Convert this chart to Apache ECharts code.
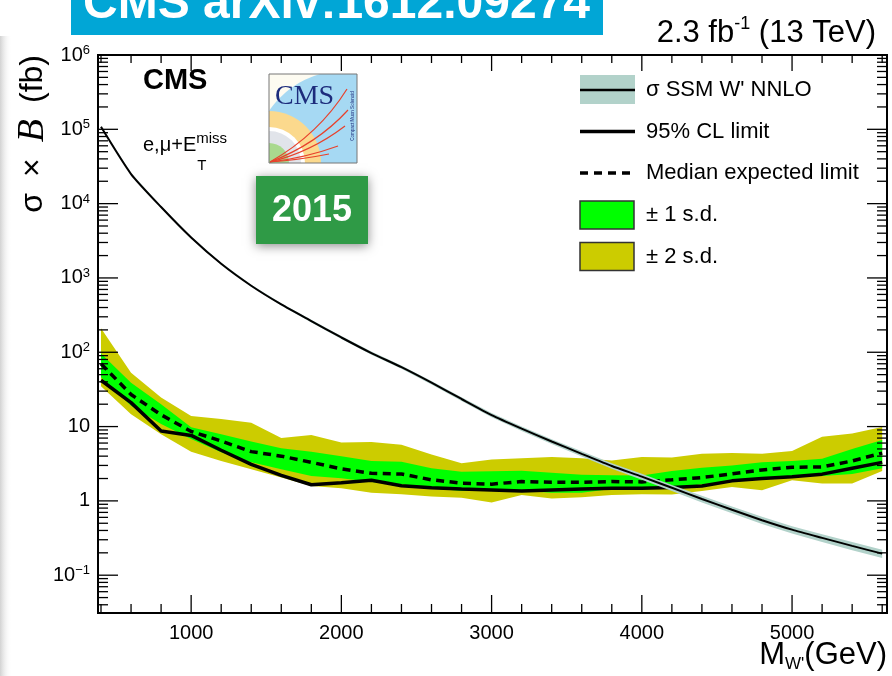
<!DOCTYPE html>
<html>
<head>
<meta charset="utf-8">
<script src="https://cdn.jsdelivr.net/npm/echarts/dist/echarts.min.js"></script>
<style>
  html, body { margin: 0; padding: 0; background: #ffffff; }
  #main { width: 892px; height: 676px; }
</style>
</head>
<body>
<div id="main"></div>
<script>
// W' -> e/mu + MET search, 2.3 fb^-1 at 13 TeV: cross section limits vs W' mass
const massGeV = [400, 600, 800, 1000, 1200, 1400, 1600, 1800, 2000, 2200, 2400, 2600, 2800, 3000,
                 3200, 3400, 3600, 3800, 4000, 4200, 4400, 4600, 4800, 5000, 5200, 5400, 5600];

// SSM W' NNLO cross section (fb) and its uncertainty band
const theoryXsec = [108000, 25000, 9000, 3500, 1550, 785, 440, 263, 158, 97.5, 63, 39, 23.5, 14.3,
                    9.4, 6.3, 4.3, 2.95, 2.12, 1.5, 1.06, 0.76, 0.55, 0.41, 0.318, 0.248, 0.195];
const theoryHigh = [111000, 25800, 9300, 3600, 1600, 810, 455, 273, 165, 102, 66.2, 41.1, 24.9, 15.2,
                    10.05, 6.77, 4.64, 3.2, 2.31, 1.64, 1.17, 0.84, 0.61, 0.457, 0.356, 0.279, 0.22];
const theoryLow  = [105000, 24250, 8730, 3400, 1505, 762, 425, 252, 151, 92.6, 59.8, 36.9, 22.1, 13.4,
                    8.74, 5.83, 3.96, 2.7, 1.93, 1.36, 0.954, 0.68, 0.49, 0.363, 0.28, 0.217, 0.17];

// 95% CL limits (fb)
const observedLimit = [42, 21, 8.7, 7.6, 4.8, 3.1, 2.2, 1.65, 1.75, 1.9, 1.6, 1.5, 1.44, 1.4,
                       1.36, 1.4, 1.44, 1.48, 1.48, 1.51, 1.59, 1.86, 2.0, 2.12, 2.29, 2.75, 3.3];
const expectedLimit = [70, 27, 14.4, 8.6, 6.4, 4.6, 4.0, 3.3, 2.7, 2.35, 2.3, 1.92, 1.73, 1.68,
                       1.82, 1.78, 1.78, 1.82, 1.8, 1.92, 2.06, 2.31, 2.61, 2.84, 2.86, 3.45, 4.4];
const oneSigmaHigh = [96, 39, 20, 9.8, 7.9, 6.3, 5.1, 4.6, 4.0, 3.45, 3.35, 2.75, 2.46, 2.5,
                      2.55, 2.4, 2.24, 2.22, 2.2, 2.53, 2.8, 3.0, 3.3, 3.45, 3.7, 5.0, 6.6];
const oneSigmaLow  = [46, 19, 10.8, 6.8, 4.5, 3.3, 2.67, 2.17, 2.02, 1.8, 1.68, 1.48, 1.36, 1.36,
                      1.37, 1.29, 1.29, 1.44, 1.44, 1.48, 1.68, 1.86, 2.0, 2.17, 2.17, 2.3, 2.75];
const twoSigmaHigh = [210, 53, 24.6, 13.9, 12.6, 11.3, 7.0, 7.7, 6.1, 6.2, 5.7, 4.2, 3.2, 3.6,
                      3.75, 3.9, 3.75, 3.5, 3.9, 3.85, 4.3, 4.4, 4.3, 4.7, 7.3, 8.05, 9.9];
const twoSigmaLow  = [35, 14.7, 7.9, 4.6, 3.45, 2.67, 2.06, 1.59, 1.48, 1.29, 1.23, 1.15, 1.1, 0.95,
                      1.2, 1.08, 1.12, 1.2, 1.23, 1.22, 1.36, 1.54, 1.39, 1.9, 1.71, 1.71, 2.53];

// axis ranges and tick positions
const xRange = [380, 5632];
const yRange = [0.031, 1e6];
const xMajorTicks = [1000, 2000, 3000, 4000, 5000];
const xMinorStep = 200;
const yMajorExponents = [-1, 0, 1, 2, 3, 4, 5, 6];

const FONT = '"Liberation Sans", Arial, Helvetica, sans-serif';
const SERIF = '"Liberation Serif", "DejaVu Serif", serif';

const chart = echarts.init(document.getElementById('main'), null, { renderer: 'canvas' });

function pairs(ys) { return massGeV.map((m, i) => [m, ys[i]]); }

function bandSeries(name, lo, hi, color, z) {
  return {
    name: name, type: 'custom', z: z, silent: true, clip: true,
    data: massGeV.map((m, i) => [m, lo[i], hi[i]]),
    encode: { x: 0, y: [1, 2] },
    renderItem: function (params, api) {
      if (params.dataIndex !== 0) return null;
      const pts = [];
      for (let i = 0; i < massGeV.length; i++) pts.push(api.coord([massGeV[i], hi[i]]));
      for (let i = massGeV.length - 1; i >= 0; i--) pts.push(api.coord([massGeV[i], lo[i]]));
      return { type: 'polygon', shape: { points: pts }, style: { fill: color, stroke: null } };
    }
  };
}

// ROOT-style ticks on all four sides of the frame
function tickRender(params, api) {
  if (params.dataIndex !== 0) return null;
  const bl = api.coord([xRange[0], yRange[0]]);
  const tr = api.coord([xRange[1], yRange[1]]);
  const kids = [];
  const seg = (a, b, c, d) => kids.push({
    type: 'line', shape: { x1: a, y1: b, x2: c, y2: d },
    style: { stroke: '#000', lineWidth: 1.3 }
  });
  // y: decades and 2..9 subdivisions
  for (let e = -2; e <= 6; e++) {
    for (let k = 1; k <= 9; k++) {
      const v = k * Math.pow(10, e);
      if (v < yRange[0] || v > yRange[1]) continue;
      const y = api.coord([xRange[0], v])[1];
      const len = k === 1 ? 20 : 10;
      seg(bl[0], y, bl[0] + len, y);
      seg(tr[0], y, tr[0] - len, y);
    }
  }
  // x: majors every 1000, minors every 200
  for (let m = 400; m <= xRange[1]; m += xMinorStep) {
    const x = api.coord([m, yRange[0]])[0];
    const major = xMajorTicks.indexOf(m) >= 0;
    seg(x, bl[1], x, bl[1] - (major ? 18 : 9));
    seg(x, tr[1], x, tr[1] + (major ? 16 : 8));
  }
  return { type: 'group', children: kids };
}

function yLabel(v) {
  const e = Math.log10(v);
  const r = Math.round(e);
  if (Math.abs(e - r) > 1e-6 || yMajorExponents.indexOf(r) < 0) return '';
  if (r === 0) return '{n|1}';
  if (r === 1) return '{n|10}';
  return '{n|10}{s|' + (r < 0 ? '\u2212' + (-r) : r) + '}';
}

// CMS logo drawn from simple shapes
function cmsLogo(x0, y0, W, H) {
  const kids = [];
  kids.push({ type: 'rect', shape: { x: 0, y: 0, width: W, height: H }, style: { fill: '#fdfbf1' } });
  const cx = 76.6, cy = H, R = 92.6;
  const blue = [];
  for (let i = 0; i <= 90; i++) {
    const t = Math.PI * i / 90;
    const px = Math.min(W, Math.max(0, cx + R * Math.cos(t)));
    const py = Math.min(H, Math.max(0, cy - R * Math.sin(t)));
    blue.push([px, py]);
  }
  kids.push({ type: 'polygon', shape: { points: blue }, style: { fill: '#a6d9f3' } });
  const ring = (r, fill) => kids.push({
    type: 'sector', shape: { cx: 0, cy: H, r0: 0, r: r, startAngle: -Math.PI / 2, endAngle: 0, clockwise: true },
    style: { fill: fill }
  });
  ring(52, '#fbd98d');
  ring(36, '#ffffff');
  ring(32, '#e1e4ea');
  ring(20, '#a9d98e');
  const tracks = [[78, 15, 50, 60], [79, 36, 48, 70], [76, 52, 42, 78], [69, 72, 36, 84], [60, 80, 30, 86]];
  tracks.forEach(t => kids.push({
    type: 'bezierCurve', shape: { x1: 1, y1: H - 1, cpx1: t[2], cpy1: t[3], x2: t[0], y2: t[1] },
    style: { stroke: '#e8412b', lineWidth: 1.2, fill: null }
  }));
  kids.push({ type: 'text', x: 6, y: 9, style: { text: 'CMS', font: '28px ' + SERIF, fill: '#1d2c7c' } });
  kids.push({ type: 'text', x: 84, y: 42, rotation: Math.PI / 2,
              style: { text: 'Compact Muon Solenoid', font: '4.5px ' + FONT, fill: '#1d2c7c', align: 'center', verticalAlign: 'middle' } });
  kids.push({ type: 'rect', shape: { x: 0, y: 0, width: W, height: H }, style: { fill: null, stroke: '#777', lineWidth: 1 } });
  return { type: 'group', x: x0, y: y0, children: kids };
}

// text measuring for stacked sub/superscripts
const measureCtx = document.createElement('canvas').getContext('2d');
function textWidth(str, font) { measureCtx.font = font; return measureCtx.measureText(str).width; }

const channelX = 143, channelBase = 155;
const channelMain = 'e,\u03bc+E';
const channelW = textWidth(channelMain, '20px ' + FONT);

const legendRows = [90, 131.5, 173, 215, 256.5];
const legX = 580, legTextX = 646;
const legFont = '22px ' + FONT;

const graphics = [
  // page edge shading on the left
  { type: 'rect', shape: { x: 0, y: 36, width: 12, height: 640 }, silent: true,
    style: { fill: new echarts.graphic.LinearGradient(0, 0, 1, 0, [
      { offset: 0, color: '#d2d2d2' }, { offset: 1, color: 'rgba(255,255,255,0)' }]) } },
  // arXiv banner
  { type: 'rect', shape: { x: 71, y: -5, width: 532, height: 40 }, style: { fill: '#01a6d6' } },
  { type: 'text', x: 83, y: 29, style: { text: 'CMS arXiv:1612.09274', font: 'bold 48px ' + FONT, fill: '#ffffff', verticalAlign: 'bottom' } },
  // luminosity label
  { type: 'text', x: 876, y: 33, style: {
      text: '{n|2.3 fb}{p|-1}{n| (13 TeV)}', align: 'right', verticalAlign: 'middle',
      rich: { n: { font: '31px ' + FONT, fill: '#000', lineHeight: 36 },
              p: { font: '18px ' + FONT, fill: '#000', lineHeight: 18, verticalAlign: 'top' } } } },
  // CMS label and channel
  { type: 'text', x: 143, y: 95, style: { text: 'CMS', font: 'bold 29px ' + FONT, fill: '#000', verticalAlign: 'bottom' } },
  { type: 'text', x: channelX, y: channelBase, style: { text: channelMain, font: '20px ' + FONT, fill: '#000', verticalAlign: 'bottom' } },
  { type: 'text', x: channelX + channelW, y: 146, style: { text: 'miss', font: '15px ' + FONT, fill: '#000', verticalAlign: 'bottom' } },
  { type: 'text', x: channelX + channelW + 1, y: 173, style: { text: 'T', font: '15px ' + FONT, fill: '#000', verticalAlign: 'bottom' } },
  cmsLogo(269, 74, 88, 89),
  // year badge
  { type: 'rect', shape: { x: 256, y: 176, width: 112, height: 68 },
    style: { fill: '#2f9a46', shadowBlur: 10, shadowColor: 'rgba(0,0,0,0.45)', shadowOffsetY: 2 } },
  { type: 'text', x: 312, y: 211, style: { text: '2015', font: 'bold 36px ' + FONT, fill: '#ffffff', align: 'center', verticalAlign: 'middle' } },
  // legend
  { type: 'rect', shape: { x: legX, y: legendRows[0] - 15, width: 55, height: 29 }, style: { fill: '#b2d2ca' } },
  { type: 'line', shape: { x1: legX, y1: legendRows[0], x2: legX + 55, y2: legendRows[0] }, style: { stroke: '#000', lineWidth: 2.5 } },
  { type: 'line', shape: { x1: legX, y1: legendRows[1], x2: legX + 55, y2: legendRows[1] }, style: { stroke: '#000', lineWidth: 3.5 } },
  { type: 'line', shape: { x1: legX, y1: legendRows[2], x2: legX + 53, y2: legendRows[2] }, style: { stroke: '#000', lineWidth: 3.5, lineDash: [8, 6] } },
  { type: 'rect', shape: { x: legX, y: legendRows[3] - 14, width: 54, height: 28 }, style: { fill: '#00ff00', stroke: '#333', lineWidth: 1.5 } },
  { type: 'rect', shape: { x: legX, y: legendRows[4] - 14, width: 54, height: 28 }, style: { fill: '#cccc00', stroke: '#333', lineWidth: 1.5 } },
  { type: 'text', x: legTextX, y: legendRows[0], style: { text: '\u03c3 SSM W\' NNLO', font: legFont, fill: '#000', verticalAlign: 'middle' } },
  { type: 'text', x: legTextX, y: legendRows[1], style: { text: '95% CL limit', font: legFont, fill: '#000', verticalAlign: 'middle' } },
  { type: 'text', x: legTextX, y: legendRows[2], style: { text: 'Median expected limit', font: legFont, fill: '#000', verticalAlign: 'middle' } },
  { type: 'text', x: legTextX, y: legendRows[3], style: { text: '\u00b1 1 s.d.', font: legFont, fill: '#000', verticalAlign: 'middle' } },
  { type: 'text', x: legTextX, y: legendRows[4], style: { text: '\u00b1 2 s.d.', font: legFont, fill: '#000', verticalAlign: 'middle' } },
  // axis titles
  { type: 'text', x: 33, y: 55, rotation: Math.PI / 2, style: {
      text: '{a|\u03c3}{x|\u00d7}{b|B}{a|(fb)}', align: 'right', verticalAlign: 'middle',
      rich: { a: { font: '32px ' + FONT, fill: '#000', lineHeight: 38 },
              x: { font: '32px ' + FONT, fill: '#000', lineHeight: 38, padding: [0, 16, 0, 16] },
              b: { font: 'italic 38px ' + SERIF, fill: '#000', lineHeight: 38, padding: [0, 16, 0, 0] } } } },
  { type: 'text', x: 887, y: 655, style: {
      text: '{n|M}{s|W\'}{n|(GeV)}', align: 'right', verticalAlign: 'middle',
      rich: { n: { font: '31px ' + FONT, fill: '#000', lineHeight: 36 },
              s: { font: '17px ' + FONT, fill: '#000', lineHeight: 17, verticalAlign: 'bottom' } } } }
];

const option = {
  animation: false,
  backgroundColor: '#ffffff',
  grid: { left: 98, right: 5, top: 55, bottom: 63, show: true, borderColor: '#000', borderWidth: 2,
          backgroundColor: 'transparent', containLabel: false, outerBoundsMode: 'none' },
  xAxis: {
    type: 'value', min: xRange[0], max: xRange[1],
    axisLine: { show: false }, axisTick: { show: false }, splitLine: { show: false },
    axisLabel: { margin: 10, fontSize: 20, fontFamily: FONT, color: '#000',
                 formatter: v => (xMajorTicks.indexOf(v) >= 0 ? String(v) : '') }
  },
  yAxis: {
    type: 'log', logBase: 10, min: yRange[0], max: yRange[1],
    axisLine: { show: false }, axisTick: { show: false }, splitLine: { show: false }, minorTick: { show: false },
    axisLabel: { margin: 8, formatter: yLabel, color: '#000',
                 rich: { n: { fontSize: 20, fontFamily: FONT, color: '#000', lineHeight: 22 },
                         s: { fontSize: 13, fontFamily: FONT, color: '#000', lineHeight: 13, verticalAlign: 'top' } } }
  },
  series: [
    bandSeries('\u00b1 2 s.d.', twoSigmaLow, twoSigmaHigh, '#cccc00', 1),
    bandSeries('\u00b1 1 s.d.', oneSigmaLow, oneSigmaHigh, '#00ff00', 2),
    { name: 'Median expected limit', type: 'line', z: 3, data: pairs(expectedLimit), showSymbol: false, silent: true,
      lineStyle: { color: '#000', width: 3.5, type: [8, 5.5] } },
    { name: '95% CL limit', type: 'line', z: 4, data: pairs(observedLimit), showSymbol: false, silent: true,
      lineStyle: { color: '#000', width: 3.5 } },
    bandSeries('\u03c3 SSM W\' NNLO band', theoryLow, theoryHigh, '#b2d2ca', 5),
    { name: '\u03c3 SSM W\' NNLO', type: 'line', z: 6, data: pairs(theoryXsec), showSymbol: false, silent: true,
      smooth: 0.2, lineStyle: { color: '#000', width: 2 } },
    { name: 'ticks', type: 'custom', z: 10, silent: true, clip: false,
      data: [[xRange[0], yRange[0]]], renderItem: tickRender }
  ],
  graphic: { elements: graphics }
};

chart.setOption(option);
</script>
</body>
</html>
